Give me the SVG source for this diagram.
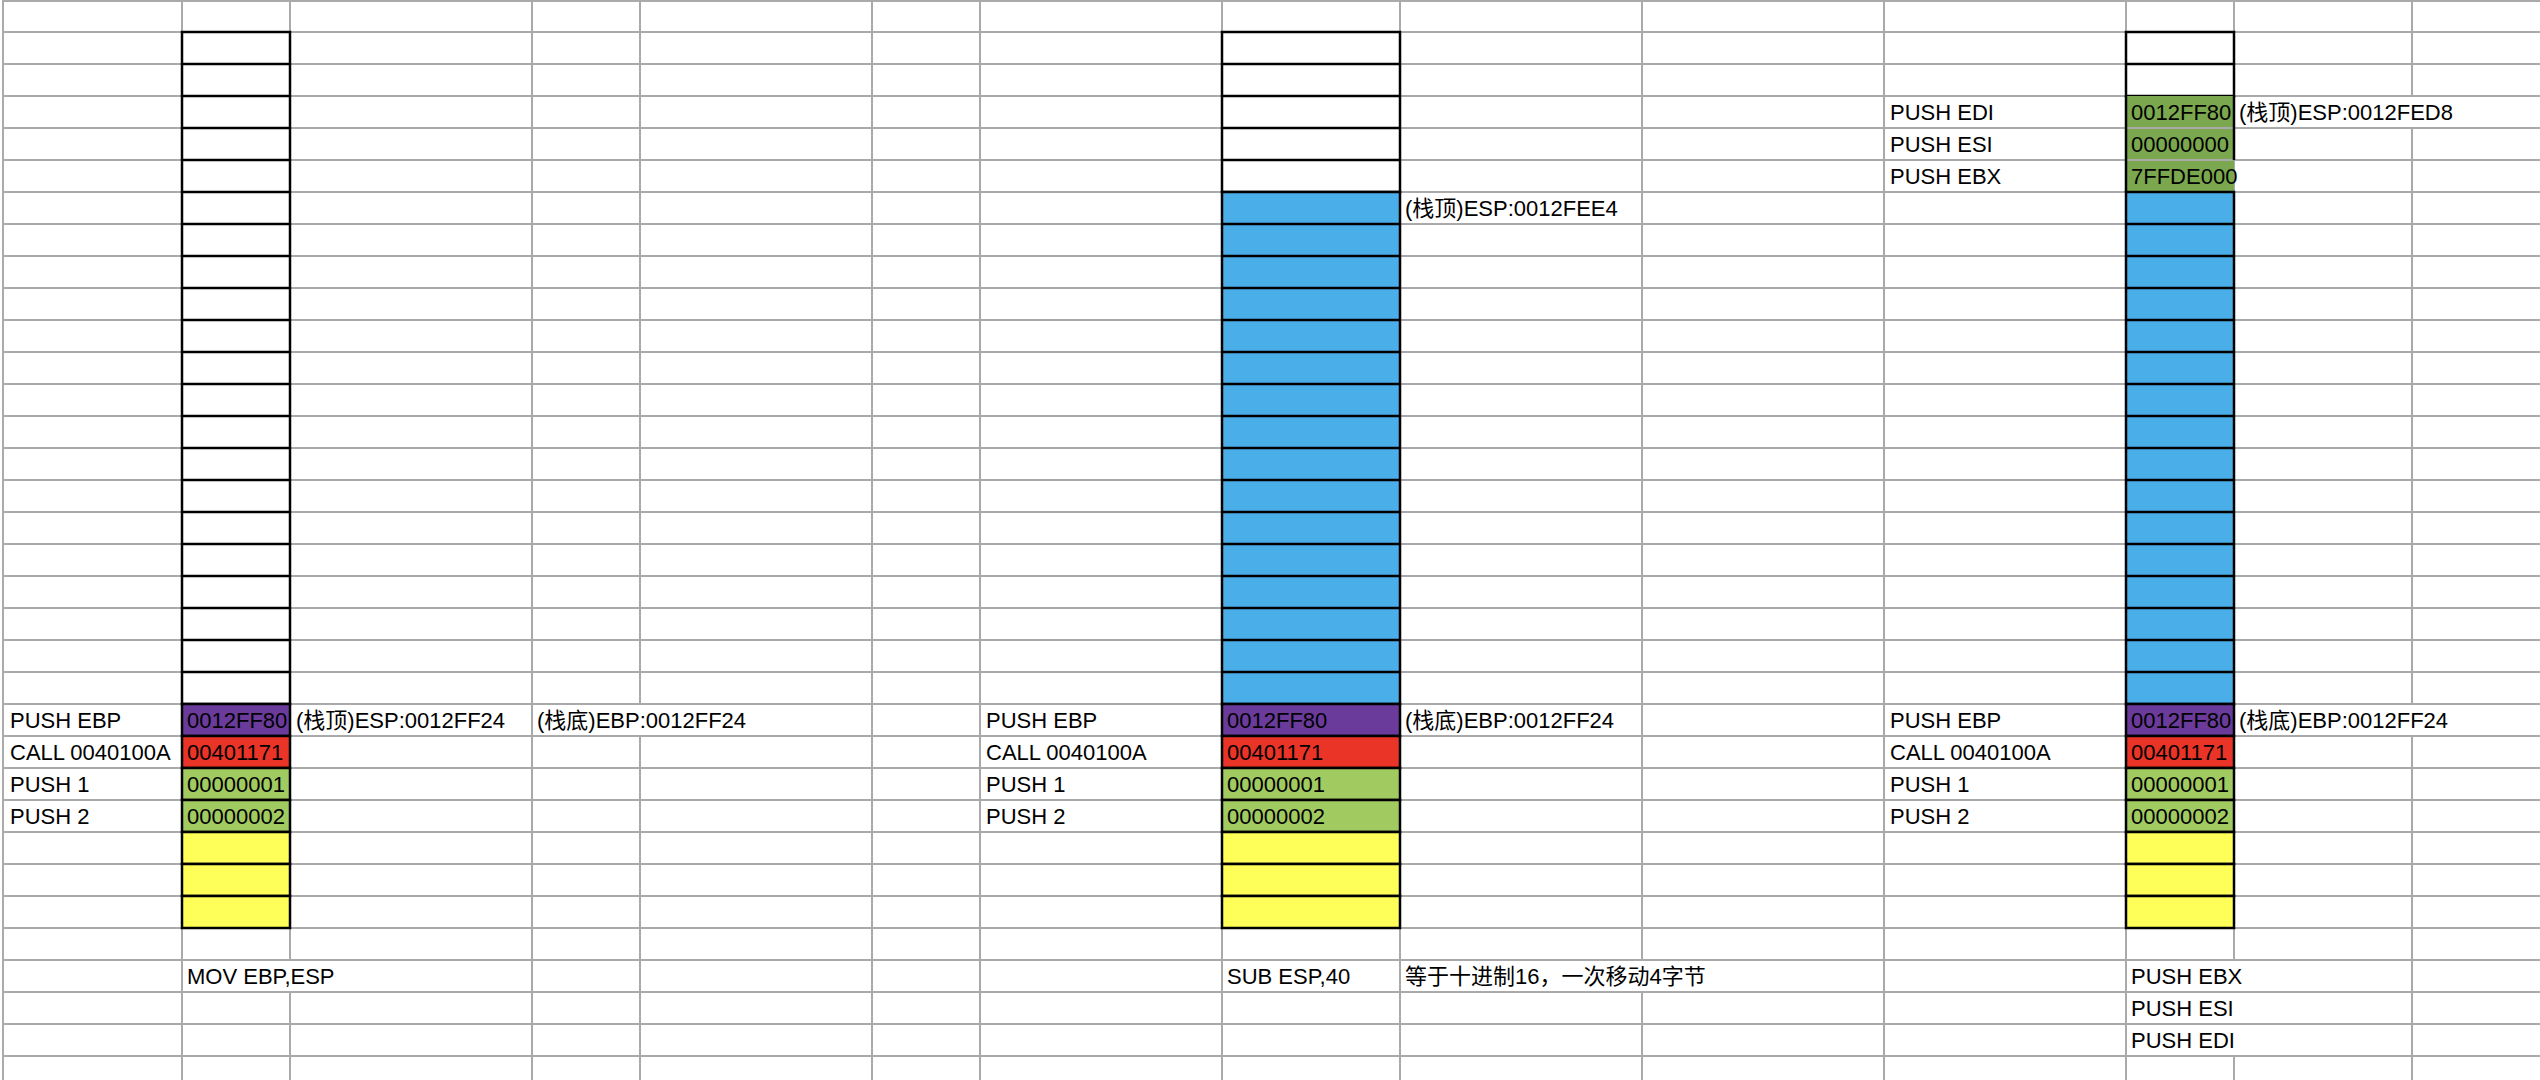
<svg xmlns="http://www.w3.org/2000/svg" width="2540" height="1080" viewBox="0 0 2540 1080">
<style>
.g{stroke:#aaaaaa;stroke-width:2;fill:none}
.c{stroke:#000;stroke-width:2.5}
.w{fill:#fff}.b{fill:#4aaee8}.p{fill:#6a3b9b}.r{fill:#e93427}.lg{fill:#a1ca60}.y{fill:#ffff5a}.dg{fill:#7ba84e}
.bl{stroke:#000;stroke-width:2.5;fill:none}
text{font-family:"Liberation Sans",Arial,"Noto Sans CJK SC",sans-serif;font-size:22px;fill:#000}
</style>
<defs>
<rect id="cell" width="108" height="32"/>
<rect id="cellw" width="178" height="32"/>
</defs>
<rect width="2540" height="1080" fill="#fff"/>
<g id="grid" class="g">
<path d="M3,0V1080 M182,0V1080 M290,0V960 M290,992V1080 M532,0V1080 M640,0V704 M640,736V1080 M872,0V1080 M980,0V1080 M1222,0V1080 M1400,0V1080 M1642,0V960 M1642,992V1080 M1884,0V1080 M2126,0V1080 M2234,0V960 M2234,1056V1080 M2412,0V96 M2412,128V704 M2412,736V1080"/>
<path d="M3,1H2540 M3,32H2540 M3,64H2540 M3,96H2540 M3,128H2540 M3,160H2540 M3,192H2540 M3,224H2540 M3,256H2540 M3,288H2540 M3,320H2540 M3,352H2540 M3,384H2540 M3,416H2540 M3,448H2540 M3,480H2540 M3,512H2540 M3,544H2540 M3,576H2540 M3,608H2540 M3,640H2540 M3,672H2540 M3,704H2540 M3,736H2540 M3,768H2540 M3,800H2540 M3,832H2540 M3,864H2540 M3,896H2540 M3,928H2540 M3,960H2540 M3,992H2540 M3,1024H2540 M3,1056H2540"/>
</g>
<g id="stack1">
<rect class="c w" x="182" y="32" width="108" height="672"/>
<path class="bl" d="M182,64H290 M182,96H290 M182,128H290 M182,160H290 M182,192H290 M182,224H290 M182,256H290 M182,288H290 M182,320H290 M182,352H290 M182,384H290 M182,416H290 M182,448H290 M182,480H290 M182,512H290 M182,544H290 M182,576H290 M182,608H290 M182,640H290 M182,672H290"/>
<rect class="c p" x="182" y="704" width="108" height="32"/>
<rect class="c r" x="182" y="736" width="108" height="32"/>
<rect class="c lg" x="182" y="768" width="108" height="32"/>
<rect class="c lg" x="182" y="800" width="108" height="32"/>
<rect class="c y" x="182" y="832" width="108" height="32"/>
<rect class="c y" x="182" y="864" width="108" height="32"/>
<rect class="c y" x="182" y="896" width="108" height="32"/>
<text x="10" y="728">PUSH EBP</text>
<text x="10" y="760">CALL 0040100A</text>
<text x="10" y="792">PUSH 1</text>
<text x="10" y="824">PUSH 2</text>
<text x="187" y="728">0012FF80</text>
<text x="187" y="760">00401171</text>
<text x="187" y="792">00000001</text>
<text x="187" y="824">00000002</text>
<text x="296" y="728">(栈顶)ESP:0012FF24</text>
<text x="537" y="728">(栈底)EBP:0012FF24</text>
<text x="187" y="984">MOV EBP,ESP</text>
</g>
<g id="stack2">
<rect class="c w" x="1222" y="32" width="178" height="160"/>
<rect class="c b" x="1222" y="192" width="178" height="512"/>
<path class="bl" d="M1222,64H1400 M1222,96H1400 M1222,128H1400 M1222,160H1400 M1222,224H1400 M1222,256H1400 M1222,288H1400 M1222,320H1400 M1222,352H1400 M1222,384H1400 M1222,416H1400 M1222,448H1400 M1222,480H1400 M1222,512H1400 M1222,544H1400 M1222,576H1400 M1222,608H1400 M1222,640H1400 M1222,672H1400"/>
<rect class="c p" x="1222" y="704" width="178" height="32"/>
<rect class="c r" x="1222" y="736" width="178" height="32"/>
<rect class="c lg" x="1222" y="768" width="178" height="32"/>
<rect class="c lg" x="1222" y="800" width="178" height="32"/>
<rect class="c y" x="1222" y="832" width="178" height="32"/>
<rect class="c y" x="1222" y="864" width="178" height="32"/>
<rect class="c y" x="1222" y="896" width="178" height="32"/>
<text x="986" y="728">PUSH EBP</text>
<text x="986" y="760">CALL 0040100A</text>
<text x="986" y="792">PUSH 1</text>
<text x="986" y="824">PUSH 2</text>
<text x="1227" y="728">0012FF80</text>
<text x="1227" y="760">00401171</text>
<text x="1227" y="792">00000001</text>
<text x="1227" y="824">00000002</text>
<text x="1405" y="216">(栈顶)ESP:0012FEE4</text>
<text x="1405" y="728">(栈底)EBP:0012FF24</text>
<text x="1227" y="984">SUB ESP,40</text>
<text x="1405" y="984">等于十进制16，一次移动4字节</text>
</g>
<g id="stack3">
<rect class="c w" x="2126" y="32" width="108" height="64"/>
<path class="bl" d="M2126,64H2234"/>
<rect class="dg" x="2126" y="96" width="108" height="96"/>
<path class="g" d="M2127,128H2233 M2127,160H2233"/>
<path class="bl" d="M2126,96V192 M2234,96V160"/>
<rect class="c b" x="2126" y="192" width="108" height="512"/>
<path class="bl" d="M2126,224H2234 M2126,256H2234 M2126,288H2234 M2126,320H2234 M2126,352H2234 M2126,384H2234 M2126,416H2234 M2126,448H2234 M2126,480H2234 M2126,512H2234 M2126,544H2234 M2126,576H2234 M2126,608H2234 M2126,640H2234 M2126,672H2234"/>
<rect class="c p" x="2126" y="704" width="108" height="32"/>
<rect class="c r" x="2126" y="736" width="108" height="32"/>
<rect class="c lg" x="2126" y="768" width="108" height="32"/>
<rect class="c lg" x="2126" y="800" width="108" height="32"/>
<rect class="c y" x="2126" y="832" width="108" height="32"/>
<rect class="c y" x="2126" y="864" width="108" height="32"/>
<rect class="c y" x="2126" y="896" width="108" height="32"/>
<text x="1890" y="120">PUSH EDI</text>
<text x="1890" y="152">PUSH ESI</text>
<text x="1890" y="184">PUSH EBX</text>
<text x="2131" y="120">0012FF80</text>
<text x="2131" y="152">00000000</text>
<text x="2131" y="184">7FFDE000</text>
<text x="2239" y="120">(栈顶)ESP:0012FED8</text>
<text x="1890" y="728">PUSH EBP</text>
<text x="1890" y="760">CALL 0040100A</text>
<text x="1890" y="792">PUSH 1</text>
<text x="1890" y="824">PUSH 2</text>
<text x="2131" y="728">0012FF80</text>
<text x="2131" y="760">00401171</text>
<text x="2131" y="792">00000001</text>
<text x="2131" y="824">00000002</text>
<text x="2239" y="728">(栈底)EBP:0012FF24</text>
<text x="2131" y="984">PUSH EBX</text>
<text x="2131" y="1016">PUSH ESI</text>
<text x="2131" y="1048">PUSH EDI</text>
</g>
<g id="connectors"/>
</svg>
